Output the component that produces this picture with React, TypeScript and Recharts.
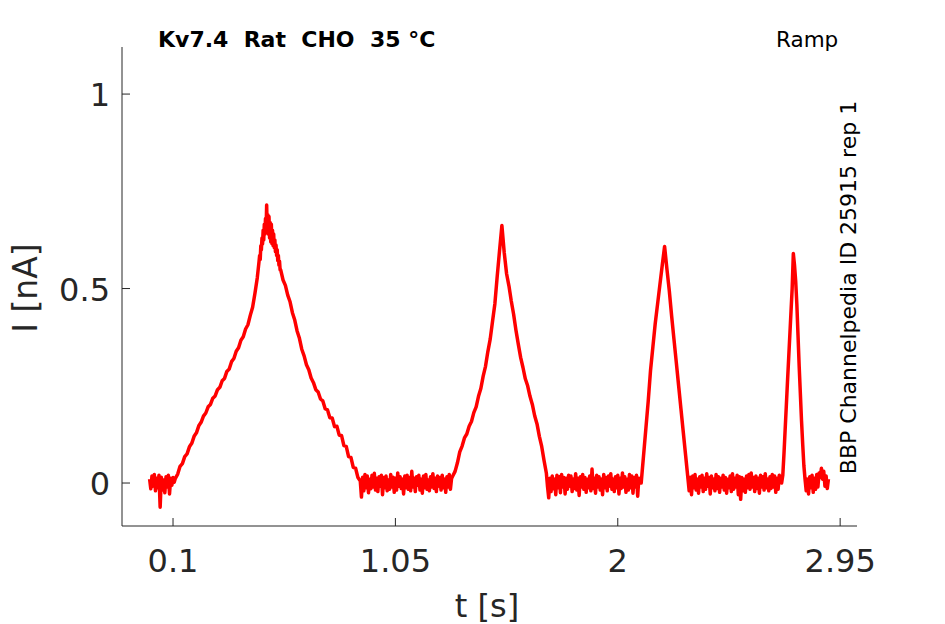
import { LineChart, Line, XAxis, YAxis } from "recharts";

// current trace in nA, sampled piecewise: [start time s, step s, values]
const noiseA = [.010, -.015, .018, -.008, .022, -.020, .012, -.012, .020, -.062, .015, -.018, .008, -.025, .016, -.010, .020, -.028, .012, -.006, .014, .002];
const ramp1Up = [.012, .023, .043, .050, .068, .075, .093, .102, .120, .129, .147, .156, .172, .180, .196, .202, .218, .224, .240, .246, .263, .269, .287, .293, .312, .320, .339, .348, .367, .376, .396, .407, .431, .452, .488, .528];
const peak1 = [.570, .585, .575, .610, .600, .630, .615, .650, .625, .665, .640, .680, .650, .715, .645, .690, .640, .685, .630, .670, .620, .665, .615, .650, .610, .640, .605, .625, .595, .612, .585, .600, .572, .585, .560, .570, .548];
const ramp1Down = [.548, .522, .508, .483, .466, .438, .419, .391, .372, .344, .327, .304, .291, .270, .258, .240, .234, .216, .211, .191, .188, .168, .167, .145, .146, .123, .122, .096, .094, .068, .066, .040, .038, .014];
const noiseB = [
  .005, -.036, .015, -.020, .022, -.012, .018, -.025, .010, -.015,
  .020, -.010, .025, -.018, .012, -.022, .016, -.008, .020, -.030,
  .014, -.012, .018, -.020, .008, -.016, .022, -.010, .015, -.024,
  .012, -.018, .026, -.008, .016, -.014, .010, -.028, .018, -.012,
  .020, -.016, .014, -.020, .030, -.010, .012, -.022, .016, -.006,
  .020, -.018, .010, -.026, .018, -.012, .022, -.016, .008, -.020,
  .016, -.010, .024, -.014, .012, -.022, .018, -.008, .014, -.018,
  .020, -.012, .010, -.024, .016, -.010, .022, -.016, .012, .018,
];
const ramp2 = [.030, .052, .080, .095, .116, .126, .146, .158, .181, .196, .223, .243, .275, .300, .338, .370, .416, .461, .532, .598, .662, .592, .538, .507, .468, .434, .393, .357, .323, .297, .268, .250, .223, .202, .173, .152, .120, .094, .058, .025];
const noiseC = [
  -.010, -.038, .012, -.022, .018, -.015, .010, -.030, .020, -.012,
  .016, -.025, .022, -.010, .014, -.028, .012, -.016, .020, -.008,
  .018, -.022, .010, -.014, .024, -.018, .012, -.032, .016, -.010,
  .022, -.016, .014, -.024, .010, -.012, .018, -.020, .036, -.014,
  .012, -.026, .020, -.010, .016, -.018, .010, -.030, .022, -.012,
  .014, -.020, .018, -.008, .024, -.016, .010, -.022, .016, -.012,
  .020, -.028, .012, -.014, .026, -.010, .016, -.024, .010, -.018,
  .022, -.012, .018, -.026, .014, -.010, .020, -.034, .012, .000,
];
const ramp3 = [.000, .070, .140, .210, .290, .350, .410, .460, .510, .560, .608, .550, .495, .430, .370, .310, .250, .190, .130, .070, .010];
const noiseD = [
  -.020, .015, -.030, .018, -.012, .022, -.018, .010, -.026, .016,
  -.010, .020, -.022, .012, -.016, .024, -.008, .014, -.028, .018,
  -.012, .010, -.020, .022, -.014, .016, -.024, .012, -.010, .020,
  -.018, .014, -.026, .010, -.012, .018, -.022, .024, -.016, .012,
  -.010, .020, -.030, .016, -.042, .014, -.020, .010, -.024, .018,
  -.012, .022, -.016, .026, -.010, .014, -.022, .018, -.014, .012,
  -.026, .020, -.010, .016, -.018, .024, -.012, .010, -.020, .016,
  -.014, .022, -.010, .018, -.024, .012, -.016, .020, .010,
];
const ramp4 = [.000, .020, .075, .137, .198, .260, .320, .380, .440, .500, .590, .560, .520, .460, .380, .300, .230, .160, .100, .045, .010];
const noiseE = [-.020, .010, -.028, .016, -.012, .020, -.024, .012, -.016, .022, -.010, .026, .014, .038, .010, .030, -.008, .018, -.014, .010];

const segments: [number, number, number[]][] = [
  [0, 0.005, noiseA],
  [0.11, 0.01, ramp1Up],
  [0.4675, 0.0025, peak1],
  [0.56, 0.01, ramp1Down],
  [0.9, 0.005, noiseB],
  [1.305, 0.01, ramp2],
  [1.7, 0.005, noiseC],
  [2.1, 0.01, ramp3],
  [2.305, 0.005, noiseD],
  [2.7, 0.005, ramp4],
  [2.805, 0.005, noiseE],
];

const xTicks = [0.1, 1.05, 2, 2.95];
const yTicks = [0, 0.5, 1];

const data = segments.flatMap(([t0, dt, vals]) =>
  vals.map((v, i) => ({ t: +(t0 + i * dt).toFixed(4), current: v }))
);

const FONT = "'DejaVu Sans', sans-serif";
const INK = "#262626";

const XTick = (props: any) => {
  const { x, y, payload } = props;
  return (
    <g>
      <line x1={x} x2={x} y1={y} y2={y - 8} stroke={INK} />
      <text x={x} y={y + 46} textAnchor="middle" fontSize={32} fill={INK} fontFamily={FONT}>
        {payload.value}
      </text>
    </g>
  );
};

const YTick = (props: any) => {
  const { x, y, payload } = props;
  return (
    <g>
      <line x1={x} x2={x + 8} y1={y} y2={y} stroke={INK} />
      <text x={x - 12} y={y + 12} textAnchor="end" fontSize={32} fill={INK} fontFamily={FONT}>
        {payload.value}
      </text>
    </g>
  );
};

export default function App() {
  return (
    <div style={{ position: "absolute", left: 0, top: 0, width: 945, height: 624, background: "#fff" }}>
      <LineChart
        width={945}
        height={624}
        data={data}
        margin={{ top: 47, right: 88, bottom: 38, left: 62 }}
      >
        <XAxis
          dataKey="t"
          type="number"
          domain={[-0.118, 3.022]}
          ticks={xTicks}
          allowDataOverflow
          height={60}
          tickSize={0}
          tickMargin={0}
          tick={<XTick />}
          axisLine={{ stroke: INK, strokeWidth: 1 }}
          tickLine={false}
        />
        <YAxis
          type="number"
          domain={[-0.1105, 1.121]}
          ticks={yTicks}
          allowDataOverflow
          width={60}
          tickSize={0}
          tickMargin={0}
          tick={<YTick />}
          axisLine={{ stroke: INK, strokeWidth: 1 }}
          tickLine={false}
        />
        <Line
          type="linear"
          dataKey="current"
          stroke="#ff0000"
          strokeWidth={3.5}
          strokeLinejoin="round"
          dot={false}
          isAnimationActive={false}
        />
        <text x={158} y={47} fontSize={22} fontWeight="bold" fill="#000" fontFamily={FONT} style={{ whiteSpace: "pre" }}>
          {"Kv7.4  Rat  CHO  35 °C"}
        </text>
        <text x={776} y={47} fontSize={21.5} fill="#000" fontFamily={FONT}>
          Ramp
        </text>
        <text
          x={856}
          y={287.5}
          fontSize={22}
          fill="#000"
          fontFamily={FONT}
          textAnchor="middle"
          transform="rotate(-90 856 287.5)"
        >
          BBP Channelpedia ID 25915 rep 1
        </text>
        <text
          x={37}
          y={288}
          fontSize={33}
          fill={INK}
          fontFamily={FONT}
          textAnchor="middle"
          transform="rotate(-90 37 288)"
        >
          I [nA]
        </text>
        <text x={487} y={616.5} fontSize={32} fill={INK} fontFamily={FONT} textAnchor="middle">
          t [s]
        </text>
      </LineChart>
    </div>
  );
}
